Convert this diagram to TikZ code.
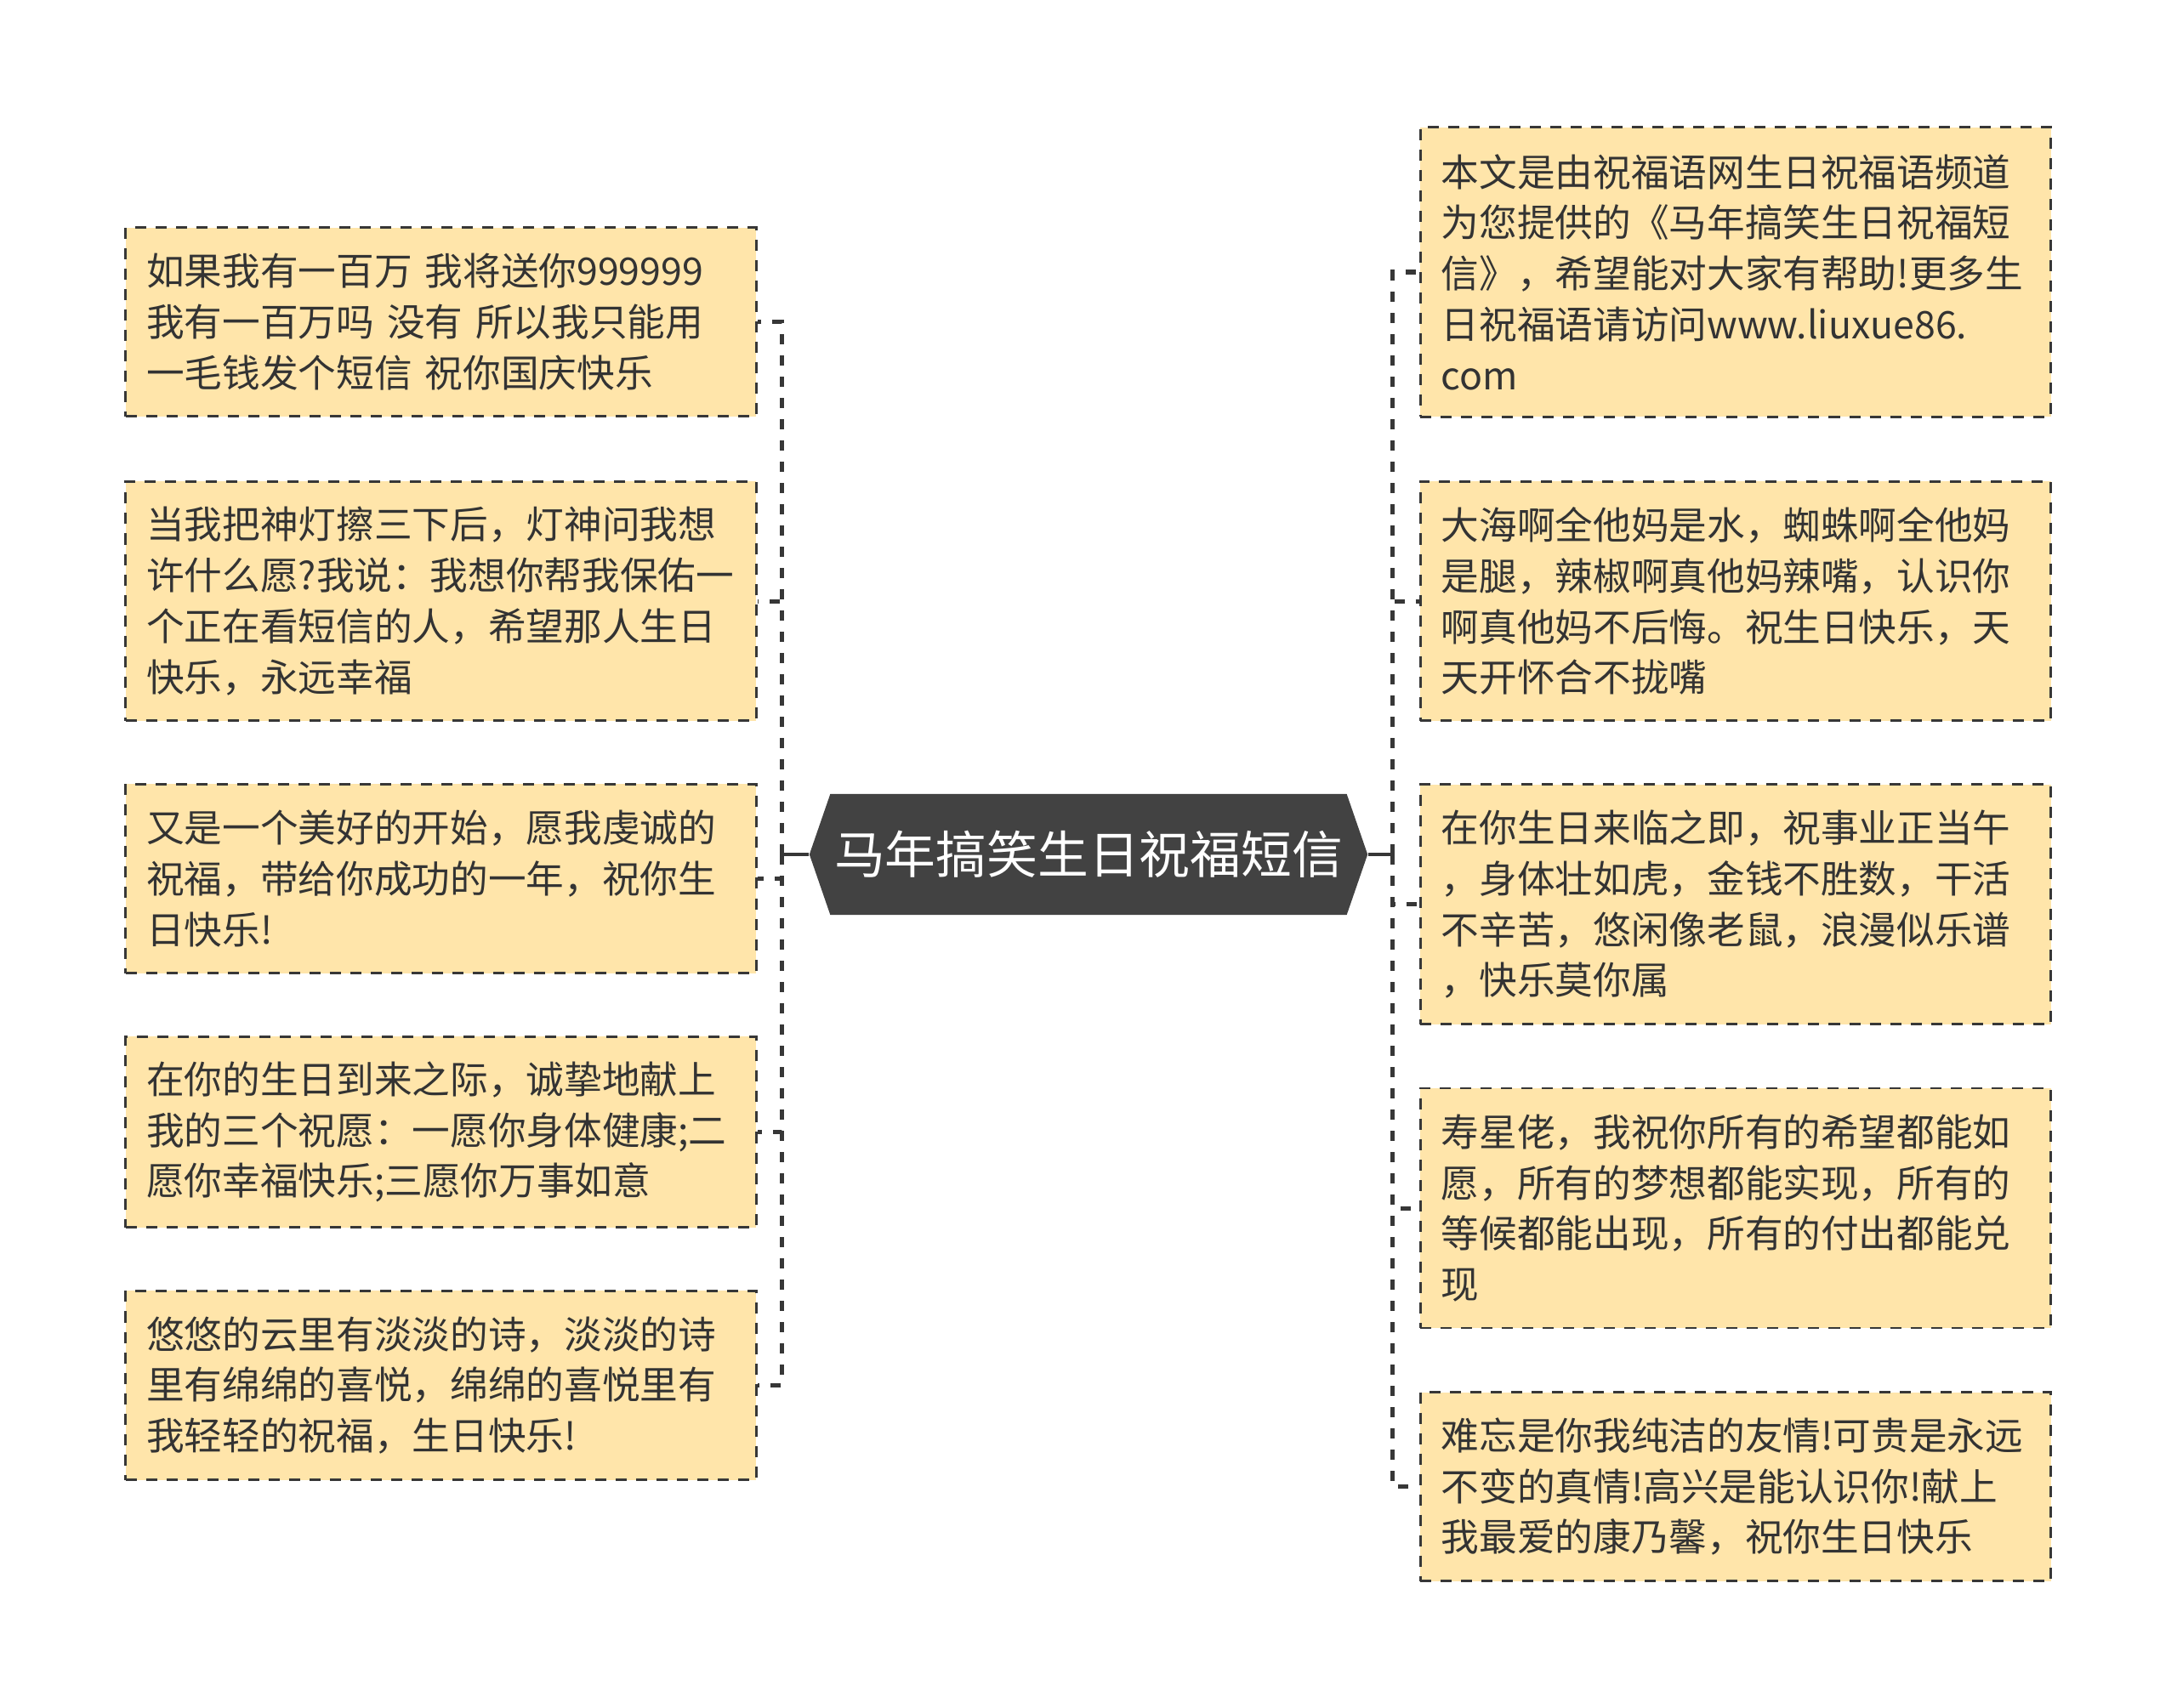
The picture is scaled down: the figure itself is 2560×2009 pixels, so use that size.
\documentclass[tikz,border=0pt]{standalone}
\usepackage{fontspec}
\newfontfamily\cjk{Noto Sans CJK SC}
\usetikzlibrary{positioning, calc}
\definecolor{NoteFill}{RGB}{255,229,170}
\definecolor{NoteLine}{RGB}{55,55,55}
\definecolor{RootFill}{RGB}{66,66,66}
\definecolor{TextDark}{RGB}{51,51,51}

\tikzset{
  note/.style={draw=NoteLine, fill=NoteFill, line width=0.028cm,
    dash pattern=on 0.13cm off 0.11cm, text=TextDark,
    font=\cjk\fontsize{12.7pt}{17pt}\selectfont, align=left,
    text width=6.92cm, inner xsep=0.245cm, inner ysep=0pt},
  link/.style={draw=NoteLine, line width=0.05cm, dash pattern=on 0.12cm off 0.13cm},
  stem/.style={draw=NoteLine, line width=0.04cm},
  root/.style={minimum width=6.56cm, minimum height=1.42cm, inner sep=0pt,
    text=white, font=\cjk\fontsize{17pt}{20pt}\selectfont,
    path picture={\fill[RootFill] (path picture bounding box.west)
      -- ([xshift=0.245cm]path picture bounding box.north west)
      -- ([xshift=-0.245cm]path picture bounding box.north east)
      -- (path picture bounding box.east)
      -- ([xshift=-0.245cm]path picture bounding box.south east)
      -- ([xshift=0.245cm]path picture bounding box.south west) -- cycle;}},
}

\begin{document}
\begin{tikzpicture}[x=0.01cm,y=-0.01cm]
  \useasboundingbox (0,0) rectangle (2560,2009);

  \node[root] (root) at (1280,1005) {马年搞笑生日祝福短信};

  % left branch
  \node[note, minimum height=2.22cm] (l1) at (518.4,378.8)
    {如果我有一百万 我将送你999999\\我有一百万吗 没有 所以我只能用\\一毛钱发个短信 祝你国庆快乐};
  \node[note, minimum height=2.81cm] (l2) at (518.4,707)
    {当我把神灯擦三下后，灯神问我想\\许什么愿?我说：我想你帮我保佑一\\个正在看短信的人，希望那人生日\\快乐，永远幸福};
  \node[note, minimum height=2.22cm] (l3) at (518.4,1033.5)
    {又是一个美好的开始，愿我虔诚的\\祝福，带给你成功的一年，祝你生\\日快乐!};
  \node[note, minimum height=2.24cm] (l4) at (518.4,1331.5)
    {在你的生日到来之际，诚挚地献上\\我的三个祝愿：一愿你身体健康;二\\愿你幸福快乐;三愿你万事如意};
  \node[note, minimum height=2.22cm] (l5) at (518.4,1629.5)
    {悠悠的云里有淡淡的诗，淡淡的诗\\里有绵绵的喜悦，绵绵的喜悦里有\\我轻轻的祝福，生日快乐!};

  % right branch
  \node[note, minimum height=3.40cm] (r1) at (2040.9,320)
    {本文是由祝福语网生日祝福语频道\\为您提供的《马年搞笑生日祝福短\\信》，希望能对大家有帮助!更多生\\日祝福语请访问www.liuxue86.\\com};
  \node[note, minimum height=2.81cm] (r2) at (2040.9,707)
    {大海啊全他妈是水，蜘蛛啊全他妈\\是腿，辣椒啊真他妈辣嘴，认识你\\啊真他妈不后悔。祝生日快乐，天\\天开怀合不拢嘴};
  \node[note, minimum height=2.82cm] (r3) at (2040.9,1063.7)
    {在你生日来临之即，祝事业正当午\\，身体壮如虎，金钱不胜数，干活\\不辛苦，悠闲像老鼠，浪漫似乐谱\\，快乐莫你属};
  \node[note, minimum height=2.82cm] (r4) at (2040.9,1421)
    {寿星佬，我祝你所有的希望都能如\\愿，所有的梦想都能实现，所有的\\等候都能出现，所有的付出都能兑\\现};
  \node[note, minimum height=2.22cm] (r5) at (2040.9,1748.6)
    {难忘是你我纯洁的友情!可贵是永远\\不变的真情!高兴是能认识你!献上\\我最爱的康乃馨，祝你生日快乐};

  % connectors
  \coordinate (lj) at (919.2,1005);
  \coordinate (rj) at (1637.6,1005);
  \draw[stem] (root.west) -- (lj);
  \draw[stem] (root.east) -- (rj);
  \foreach \n in {l1,l2,l3,l4,l5}
    \draw[link] (lj) |- (\n.east);
  \foreach \n in {r1,r2,r3,r4,r5}
    \draw[link] (rj) |- (\n.west);
\end{tikzpicture}
\end{document}
